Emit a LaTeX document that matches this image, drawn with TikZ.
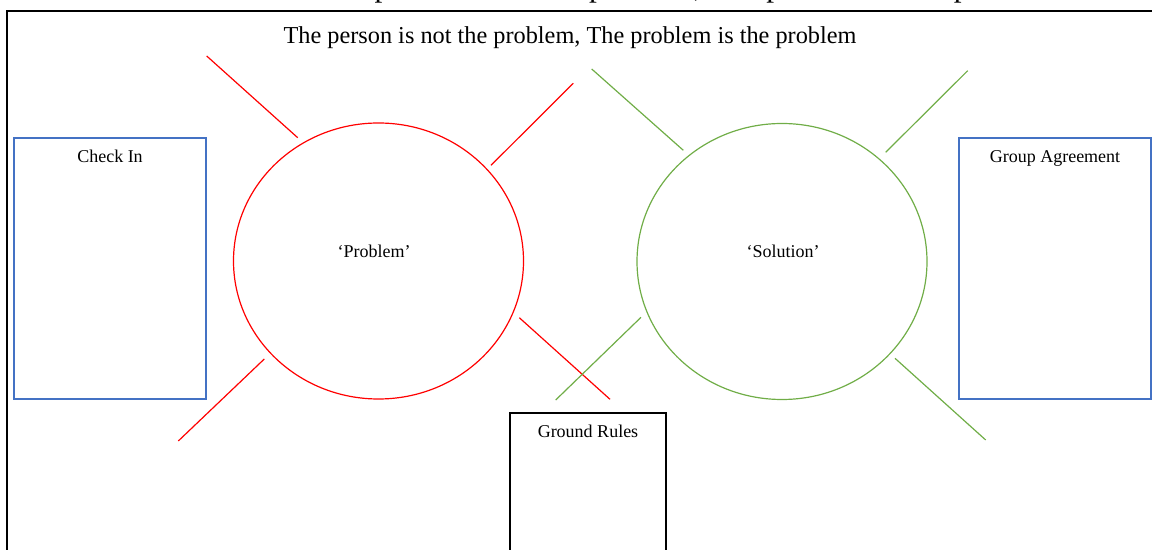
\documentclass[tikz,border=0pt]{standalone}
\usepackage{fontspec}
\setmainfont{Liberation Serif}
\usetikzlibrary{positioning,shapes.geometric}
\definecolor{probred}{RGB}{255,0,0}
\definecolor{solgreen}{RGB}{112,173,71}
\definecolor{boxblue}{RGB}{68,114,196}

\begin{document}
\begin{tikzpicture}[x=0.5pt,y=-0.5pt,every node/.style={inner sep=0pt,outer sep=0pt},
  sidebox/.style={draw=boxblue,line width=0.6pt,minimum width=96pt,minimum height=130.5pt},
  rulebox/.style={draw=black,line width=0.6pt,minimum width=78pt,minimum height=75pt},
  bubble/.style={ellipse,line width=0.6pt,minimum width=145pt,minimum height=138pt},
  lbl/.style={anchor=base,font=\fontsize{9}{11}\selectfont},
  redline/.style={draw=probred,line width=0.6pt},
  greenline/.style={draw=solgreen,line width=0.6pt}]
\useasboundingbox (0,0) rectangle (1152,550);
\begin{scope}
\clip (0,0) rectangle (1152,550);
% line above, cut off by the page
\node[anchor=base west,font=\fontsize{15.7}{18}\selectfont] (prevline) at (318,-3) {The person is not the problem, The problem is the problem};
\draw[line width=1pt] (7,11) rectangle (1170,570);
\node[anchor=base,font=\fontsize{12.15}{14}\selectfont] (title) at (570,43.5) {The person is not the problem, The problem is the problem};
% boxes
\node[sidebox] (checkin) at (110,268.5) {};
\node[sidebox] (agreement) at (1055,268.5) {};
\node[rulebox] (rules) at (588,488) {};
\node[lbl] at ([yshift=-12.5pt]checkin.north) {Check In};
\node[lbl] at ([yshift=-12.5pt]agreement.north) {Group Agreement};
\node[lbl] at ([yshift=-12.5pt]rules.north) {Ground Rules};
% circles
\node[bubble,draw=probred] (problem) at (378.5,261) {};
\node[bubble,draw=solgreen] (solution) at (782,261.5) {};
\node[lbl] at (374,257.5) {`Problem'};
\node[lbl] at (783,258) {`Solution'};
% spokes
\draw[redline] (206.7,56) -- (297.7,137.7);
\draw[redline] (573.3,83.3) -- (491,165.3);
\draw[redline] (519.3,317.7) -- (610,399.3);
\draw[redline] (264.3,359) -- (178.3,441);
\draw[greenline] (591.7,69) -- (683.3,150.3);
\draw[greenline] (967.7,70.7) -- (885.7,152.3);
\draw[greenline] (641,317.3) -- (555.7,400);
\draw[greenline] (895,358.3) -- (985.7,440);
\end{scope}
\end{tikzpicture}
\end{document}
